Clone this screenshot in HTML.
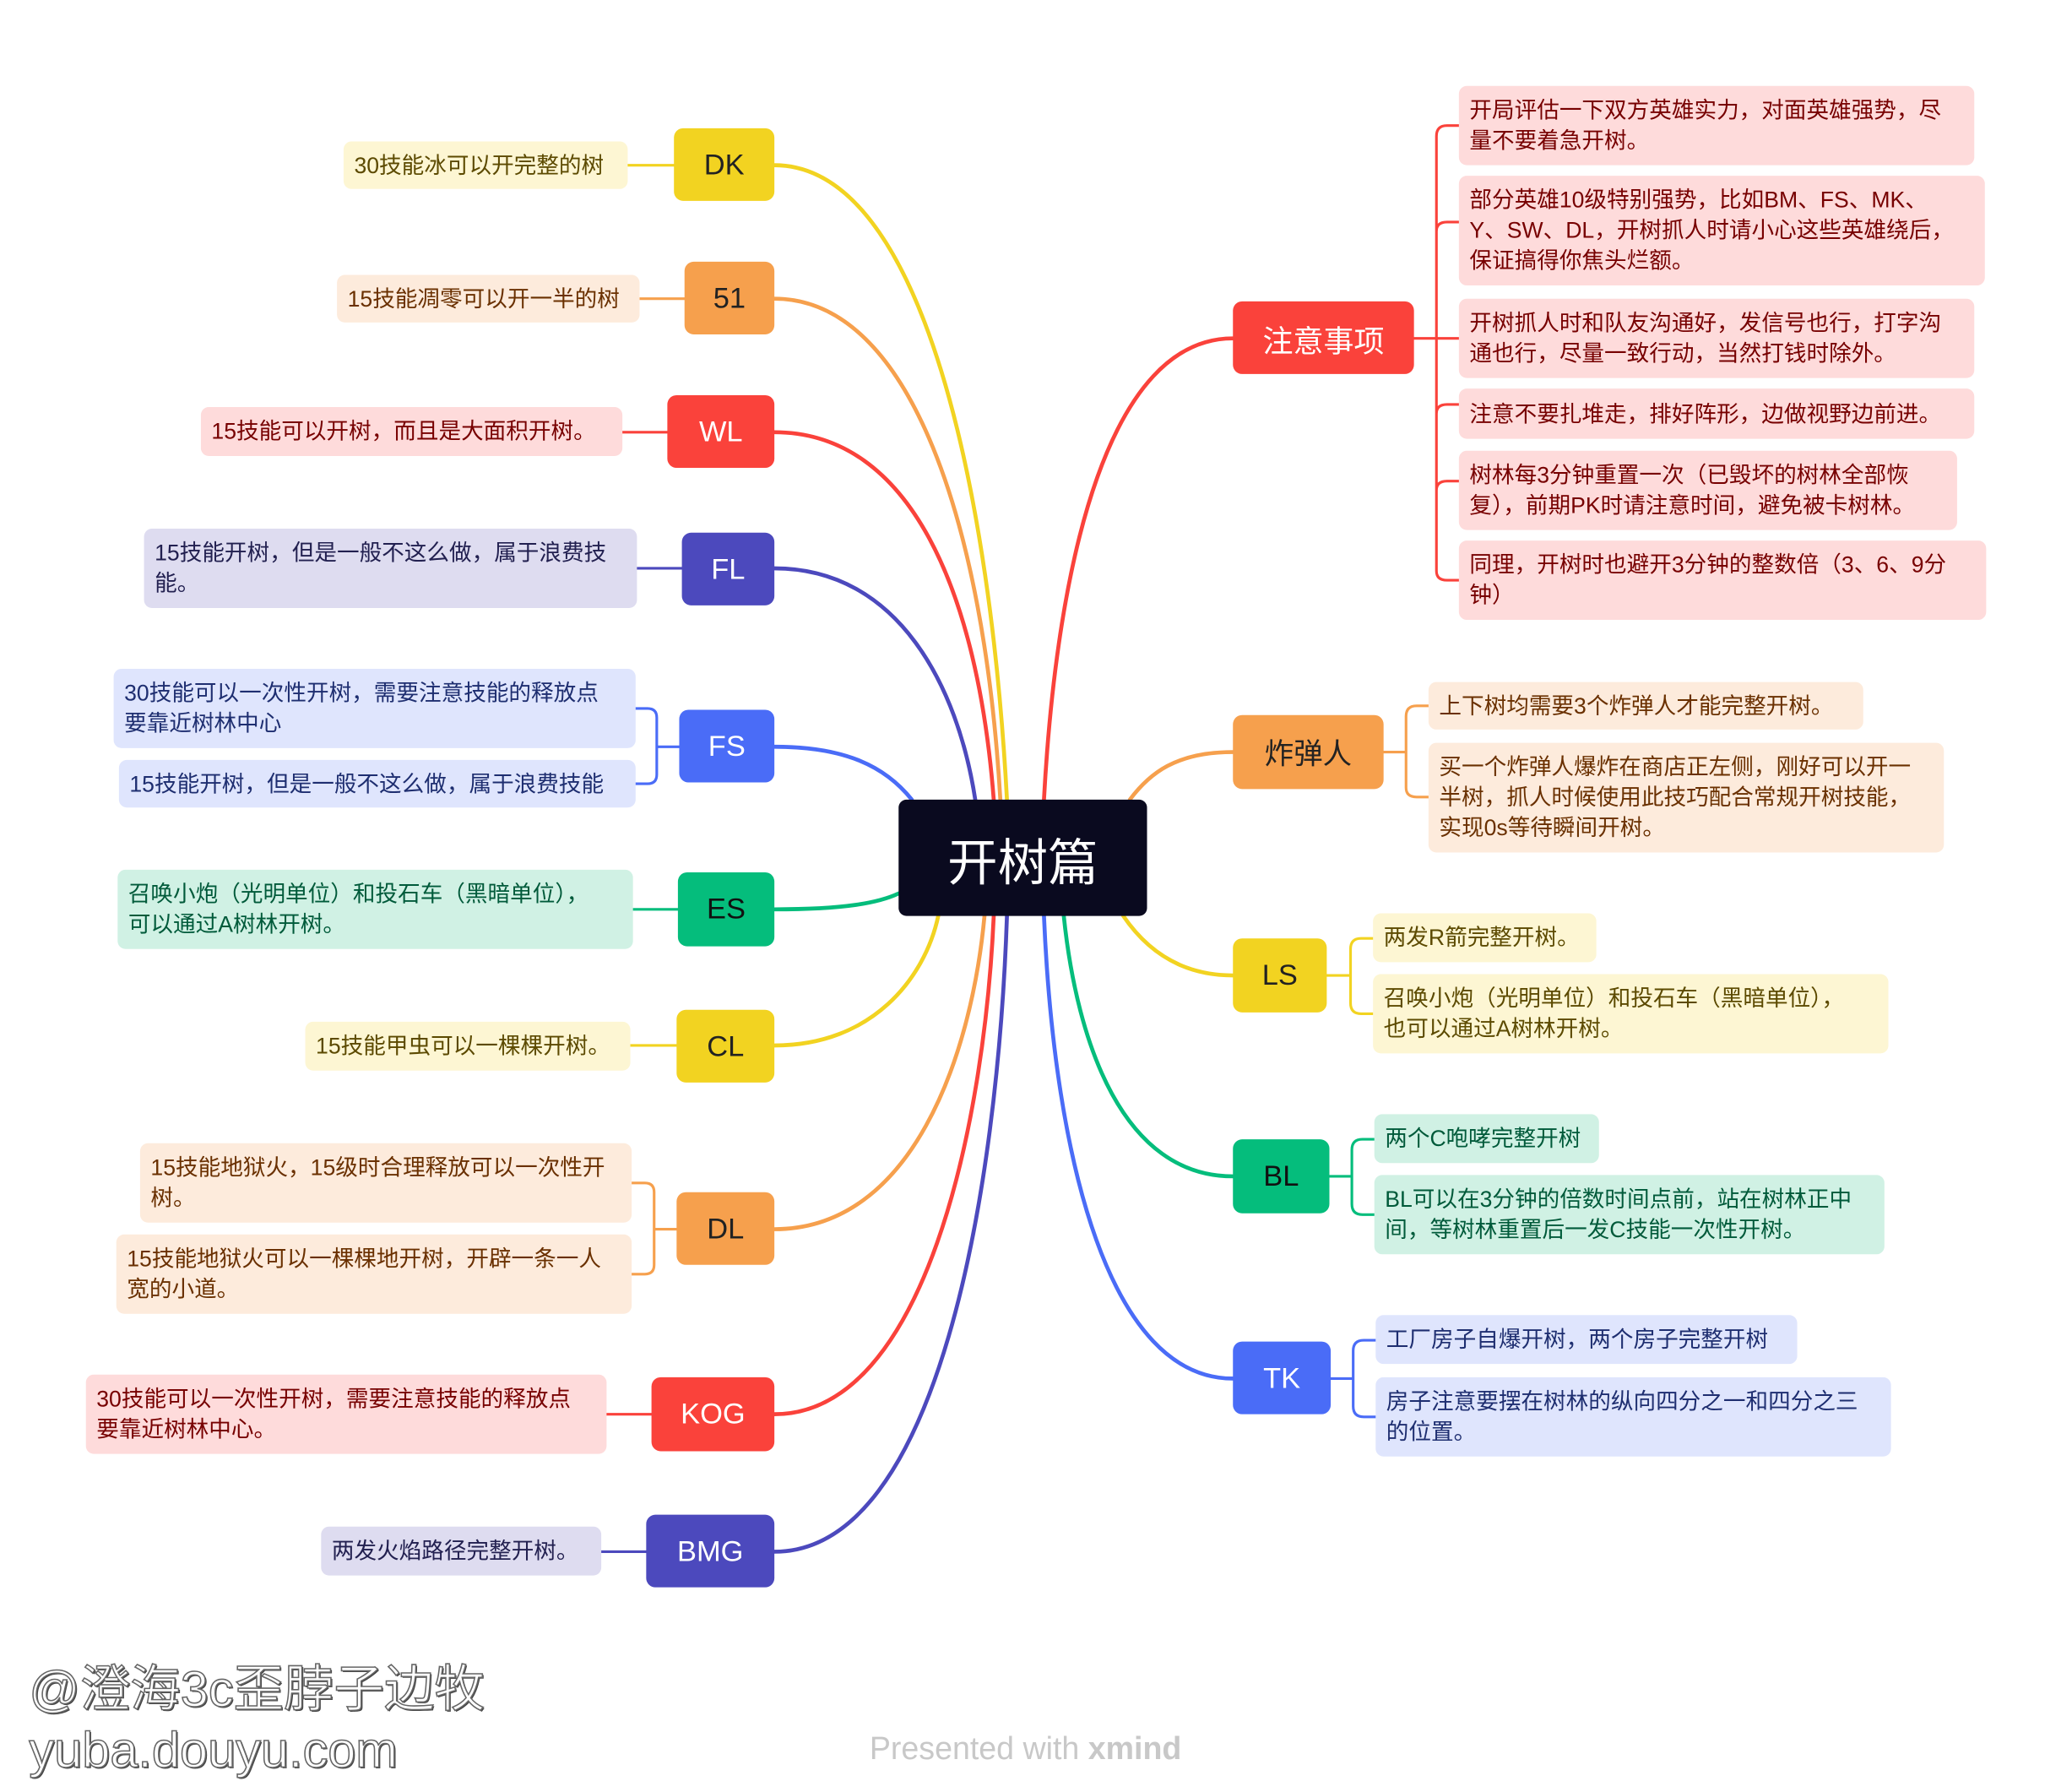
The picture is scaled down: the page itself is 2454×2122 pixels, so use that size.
<!DOCTYPE html>
<html><head><meta charset="utf-8"><style>
html,body{margin:0;padding:0;background:#fff;}
body{width:2454px;height:2122px;overflow:hidden;position:relative;}
#w{position:absolute;left:0;top:0;width:1568px;height:1356px;transform:scale(1.5651);transform-origin:0 0;font-family:"Liberation Sans","Noto Sans CJK SC",sans-serif;}
.n{position:absolute;border-radius:7px;display:flex;align-items:center;justify-content:center;font-size:22px;}
.l{position:absolute;border-radius:6px;font-size:17px;line-height:23px;padding:0 8px;box-sizing:border-box;display:flex;align-items:center;white-space:nowrap;overflow:hidden;}
svg{position:absolute;left:0;top:0;}
.y{background:#f2d321;color:#222;} .o{background:#f6a04d;color:#222;} .r{background:#fa423b;color:#fff;}
.i{background:#4c49bd;color:#fff;} .b{background:#4a6cf7;color:#fff;} .g{background:#05bd7c;color:#111;}
.ly{background:#fdf6d3;color:#5c4a00;} .lo{background:#fdebdc;color:#6a3000;} .lr{background:#fedbdb;color:#700;}
.li{background:#dedcf0;color:#222050;} .lb{background:#dfe5fd;color:#1e2e70;} .lg{background:#d0f1e4;color:#005a3a;}
</style></head><body><div id="w">
<svg width="1568" height="1356" fill="none" stroke-width="3" stroke-linecap="round">
<path d="M586 125 C700 125 750 380 762 605" stroke="#f2d321"/>
<path d="M586 226 C690 226 745 400 757 605" stroke="#f6a04d"/>
<path d="M586 327 C690 327 740 450 752 605" stroke="#fa423b"/>
<path d="M586 430 C680 430 725 520 738 605" stroke="#4c49bd"/>
<path d="M586 565 C640 565 670 580 690 605" stroke="#4a6cf7"/>
<path d="M586 688 C640 688 665 683 680 676" stroke="#05bd7c"/>
<path d="M586 791 C660 791 700 740 710 693" stroke="#f2d321"/>
<path d="M586 930 C690 930 735 800 745 693" stroke="#f6a04d"/>
<path d="M586 1070 C700 1070 745 850 752 693" stroke="#fa423b"/>
<path d="M586 1174 C710 1174 755 900 762 693" stroke="#4c49bd"/>
<path d="M933 256 C840 256 800 420 790 605" stroke="#fa423b"/>
<path d="M933 569 C890 569 870 585 855 605" stroke="#f6a04d"/>
<path d="M933 738 C890 738 865 715 850 693" stroke="#f2d321"/>
<path d="M933 890 C850 890 815 790 805 693" stroke="#05bd7c"/>
<path d="M933 1043 C840 1043 798 880 790 693" stroke="#4a6cf7"/>
<g stroke-width="2">
<path d="M510 125 H475" stroke="#f2d321"/>
<path d="M518 226 H484" stroke="#f6a04d"/>
<path d="M505 327 H471" stroke="#fa423b"/>
<path d="M516 430 H482" stroke="#4c49bd"/>
<path d="M514 565 H497 M481 536 H490 Q497 536 497 543 V586 Q497 593 490 593 H481" stroke="#4a6cf7"/>
<path d="M513 688 H479" stroke="#05bd7c"/>
<path d="M512 791 H477" stroke="#f2d321"/>
<path d="M512 930 H495 M478 895 H488 Q495 895 495 902 V957 Q495 964 488 964 H478" stroke="#f6a04d"/>
<path d="M493 1070 H459" stroke="#fa423b"/>
<path d="M489 1174 H455" stroke="#4c49bd"/>
<path d="M1070 256 H1104 M1104 95 H1095 Q1087 95 1087 103 V432 Q1087 439 1095 439 H1104 M1087 175 Q1087 168 1095 168 H1104 M1087 313 Q1087 306 1095 306 H1104 M1087 371 Q1087 364 1095 364 H1104 M1087 256 H1104" stroke="#fa423b"/>
<path d="M1047 569 H1064 M1081 534 H1072 Q1064 534 1064 542 V596 Q1064 603 1072 603 H1081" stroke="#f6a04d"/>
<path d="M1004 738 H1022 M1039 710 H1030 Q1022 710 1022 718 V759 Q1022 767 1030 767 H1039" stroke="#f2d321"/>
<path d="M1006 890 H1023 M1040 862 H1031 Q1023 862 1023 870 V911 Q1023 919 1031 919 H1040" stroke="#05bd7c"/>
<path d="M1007 1043 H1024 M1041 1014 H1032 Q1024 1014 1024 1022 V1064 Q1024 1072 1032 1072 H1041" stroke="#4a6cf7"/>
</g></svg>
<div class="n" style="left:680px;top:605px;width:188px;height:88px;background:#0a0a1f;color:#fff;font-size:38px;border-radius:6px;">开树篇</div>
<div class="n y" style="left:510px;top:97px;width:76px;height:55px;">DK</div>
<div class="l ly" style="left:260px;top:107px;width:215px;height:36px;">30技能冰可以开完整的树</div>
<div class="n o" style="left:518px;top:198px;width:68px;height:55px;">51</div>
<div class="l lo" style="left:255px;top:208px;width:229px;height:36px;">15技能凋零可以开一半的树</div>
<div class="n r" style="left:505px;top:299px;width:81px;height:55px;">WL</div>
<div class="l lr" style="left:152px;top:308px;width:319px;height:37px;">15技能可以开树，而且是大面积开树。</div>
<div class="n i" style="left:516px;top:403px;width:70px;height:55px;">FL</div>
<div class="l li" style="left:109px;top:400px;width:373px;height:60px;">15技能开树，但是一般不这么做，属于浪费技<br>能。</div>
<div class="n b" style="left:514px;top:537px;width:72px;height:55px;">FS</div>
<div class="l lb" style="left:86px;top:506px;width:395px;height:60px;">30技能可以一次性开树，需要注意技能的释放点<br>要靠近树林中心</div>
<div class="l lb" style="left:90px;top:575px;width:391px;height:36px;">15技能开树，但是一般不这么做，属于浪费技能</div>
<div class="n g" style="left:513px;top:660px;width:73px;height:56px;">ES</div>
<div class="l lg" style="left:89px;top:658px;width:390px;height:60px;">召唤小炮（光明单位）和投石车（黑暗单位），<br>可以通过A树林开树。</div>
<div class="n y" style="left:512px;top:764px;width:74px;height:55px;">CL</div>
<div class="l ly" style="left:231px;top:773px;width:246px;height:37px;">15技能甲虫可以一棵棵开树。</div>
<div class="n o" style="left:512px;top:902px;width:74px;height:55px;">DL</div>
<div class="l lo" style="left:106px;top:865px;width:372px;height:60px;">15技能地狱火，15级时合理释放可以一次性开<br>树。</div>
<div class="l lo" style="left:88px;top:934px;width:390px;height:60px;">15技能地狱火可以一棵棵地开树，开辟一条一人<br>宽的小道。</div>
<div class="n r" style="left:493px;top:1042px;width:93px;height:56px;">KOG</div>
<div class="l lr" style="left:65px;top:1040px;width:394px;height:60px;">30技能可以一次性开树，需要注意技能的释放点<br>要靠近树林中心。</div>
<div class="n i" style="left:489px;top:1146px;width:97px;height:55px;">BMG</div>
<div class="l li" style="left:243px;top:1155px;width:212px;height:37px;">两发火焰路径完整开树。</div>
<div class="n r" style="left:933px;top:228px;width:137px;height:55px;font-size:23px;">注意事项</div>
<div class="l lr" style="left:1104px;top:65px;width:390px;height:60px;">开局评估一下双方英雄实力，对面英雄强势，尽<br>量不要着急开树。</div>
<div class="l lr" style="left:1104px;top:133px;width:398px;height:83px;">部分英雄10级特别强势，比如BM、FS、MK、<br>Y、SW、DL，开树抓人时请小心这些英雄绕后，<br>保证搞得你焦头烂额。</div>
<div class="l lr" style="left:1104px;top:226px;width:390px;height:60px;">开树抓人时和队友沟通好，发信号也行，打字沟<br>通也行，尽量一致行动，当然打钱时除外。</div>
<div class="l lr" style="left:1104px;top:294px;width:390px;height:38px;">注意不要扎堆走，排好阵形，边做视野边前进。</div>
<div class="l lr" style="left:1104px;top:341px;width:377px;height:60px;">树林每3分钟重置一次（已毁坏的树林全部恢<br>复），前期PK时请注意时间，避免被卡树林。</div>
<div class="l lr" style="left:1104px;top:409px;width:399px;height:60px;">同理，开树时也避开3分钟的整数倍（3、6、9分<br>钟）</div>
<div class="n o" style="left:933px;top:541px;width:114px;height:56px;">炸弹人</div>
<div class="l lo" style="left:1081px;top:516px;width:329px;height:36px;">上下树均需要3个炸弹人才能完整开树。</div>
<div class="l lo" style="left:1081px;top:562px;width:390px;height:83px;">买一个炸弹人爆炸在商店正左侧，刚好可以开一<br>半树，抓人时候使用此技巧配合常规开树技能，<br>实现0s等待瞬间开树。</div>
<div class="n y" style="left:933px;top:710px;width:71px;height:56px;">LS</div>
<div class="l ly" style="left:1039px;top:691px;width:169px;height:37px;">两发R箭完整开树。</div>
<div class="l ly" style="left:1039px;top:737px;width:390px;height:60px;">召唤小炮（光明单位）和投石车（黑暗单位），<br>也可以通过A树林开树。</div>
<div class="n g" style="left:933px;top:862px;width:73px;height:56px;">BL</div>
<div class="l lg" style="left:1040px;top:843px;width:170px;height:37px;">两个C咆哮完整开树</div>
<div class="l lg" style="left:1040px;top:889px;width:386px;height:60px;">BL可以在3分钟的倍数时间点前，站在树林正中<br>间，等树林重置后一发C技能一次性开树。</div>
<div class="n b" style="left:933px;top:1015px;width:74px;height:55px;">TK</div>
<div class="l lb" style="left:1041px;top:995px;width:319px;height:37px;">工厂房子自爆开树，两个房子完整开树</div>
<div class="l lb" style="left:1041px;top:1042px;width:390px;height:60px;">房子注意要摆在树林的纵向四分之一和四分之三<br>的位置。</div>
<div style="position:absolute;left:22px;top:1256px;font-size:38px;line-height:46px;color:#fff;-webkit-text-stroke:1px #666;text-shadow:1px 1px 0 #444;">@澄海3c歪脖子边牧<br>yuba.douyu.com</div>
<div style="position:absolute;left:658px;top:1310px;font-size:24px;color:#c8c8c8;">Presented with <b>xmind</b></div>
</div></body></html>
